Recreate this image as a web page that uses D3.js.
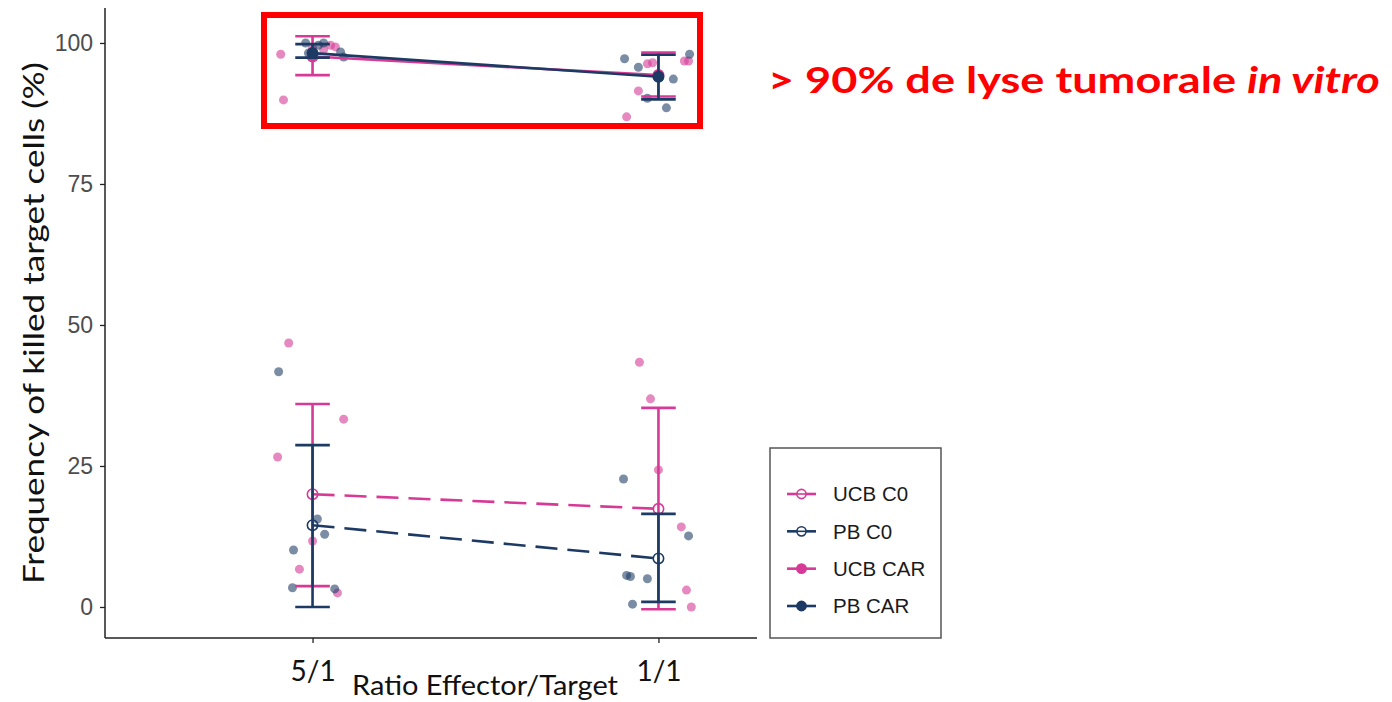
<!DOCTYPE html>
<html>
<head>
<meta charset="utf-8">
<script src="https://cdn.jsdelivr.net/npm/d3@7"></script>
<style>
  body { margin: 0; background: #ffffff; }
  svg { display: block; }
</style>
</head>
<body>
<svg id="chart" width="1392" height="702"></svg>
<script>
// ---- data ----------------------------------------------------------------
const ratios = ["5/1", "1/1"];
const groups = ["UCB C0", "PB C0", "UCB CAR", "PB CAR"];
const yTickValues = [0, 25, 50, 75, 100];

// group means and error bar limits, one value per ratio (5/1, 1/1)
const meanUCBC0 = [20.0, 17.4];
const lowUCBC0  = [3.7, -0.4];
const highUCBC0 = [36.0, 35.3];

const meanPBC0 = [14.5, 8.6];
const lowPBC0  = [0.0, 0.9];
const highPBC0 = [28.7, 16.5];

const meanUCBCAR = [97.6, 94.3];
const lowUCBCAR  = [94.3, 90.5];
const highUCBCAR = [101.2, 98.3];

const meanPBCAR = [98.2, 94.0];
const lowPBCAR  = [97.4, 90.0];
const highPBCAR = [99.8, 97.9];

// individual donors (%), with horizontal jitter as a fraction of the category step
const donorsUCBC0_51 = [46.8, 33.3, 26.6, 11.7, 6.7, 2.5];
const jitterUCBC0_51 = [-0.069, 0.090, -0.101, 0.0, -0.038, 0.072];
const donorsUCBC0_11 = [43.4, 36.9, 24.3, 14.2, 3.0, 0.0];
const jitterUCBC0_11 = [-0.055, -0.023, 0.0, 0.066, 0.081, 0.095];

const donorsPBC0_51 = [41.7, 15.6, 12.9, 10.1, 3.4, 3.2];
const jitterPBC0_51 = [-0.098, 0.014, 0.035, -0.055, -0.058, 0.064];
const donorsPBC0_11 = [22.7, 12.6, 5.6, 5.4, 5.0, 0.5];
const jitterPBC0_11 = [-0.101, 0.087, -0.092, -0.081, -0.032, -0.075];

const donorsUCBCAR_51 = [98.0, 89.9, 99.1, 98.8, 99.3, 99.6];
const jitterUCBCAR_51 = [-0.092, -0.084, 0.0, 0.032, 0.066, 0.052];
const donorsUCBCAR_11 = [96.3, 96.5, 96.8, 96.8, 91.5, 86.9];
const jitterUCBCAR_11 = [-0.032, -0.017, 0.075, 0.087, -0.058, -0.092];

const donorsPBCAR_51 = [100.0, 100.0, 97.5, 98.4, 98.2, 99.6];
const jitterPBCAR_51 = [-0.020, 0.032, 0.090, 0.081, -0.012, 0.017];
const donorsPBCAR_11 = [97.2, 95.7, 93.6, 88.5, 98.0, 90.2];
const jitterPBCAR_11 = [-0.098, -0.058, 0.043, 0.023, 0.090, -0.032];

// ---- styling -------------------------------------------------------------
const PINK = "#d63a96";
const NAVY = "#1c3a63";

const series = [
  { name: groups[0], color: PINK, open: true,  dashed: true,
    mean: meanUCBC0, low: lowUCBC0, high: highUCBC0,
    donors: [donorsUCBC0_51, donorsUCBC0_11], jitter: [jitterUCBC0_51, jitterUCBC0_11] },
  { name: groups[1], color: NAVY, open: true,  dashed: true,
    mean: meanPBC0, low: lowPBC0, high: highPBC0,
    donors: [donorsPBC0_51, donorsPBC0_11], jitter: [jitterPBC0_51, jitterPBC0_11] },
  { name: groups[2], color: PINK, open: false, dashed: false,
    mean: meanUCBCAR, low: lowUCBCAR, high: highUCBCAR,
    donors: [donorsUCBCAR_51, donorsUCBCAR_11], jitter: [jitterUCBCAR_51, jitterUCBCAR_11] },
  { name: groups[3], color: NAVY, open: false, dashed: false,
    mean: meanPBCAR, low: lowPBCAR, high: highPBCAR,
    donors: [donorsPBCAR_51, donorsPBCAR_11], jitter: [jitterPBCAR_51, jitterPBCAR_11] }
];

const svg = d3.select("#chart");

// panel geometry
const panelLeft = 105, panelBottom = 638, panelTop = 8, panelRight = 866, axisEnd = 757;

const x = d3.scalePoint().domain(ratios).range([panelLeft, panelRight]).padding(0.6);
const step = x.step();
const y = d3.scaleLinear().domain([-5.5, 106.2]).range([panelBottom, panelTop]);

const plot = svg.append("g");

// ---- donor points --------------------------------------------------------
series.forEach(s => {
  ratios.forEach((r, i) => {
    plot.selectAll(null)
      .data(s.donors[i].map((v, k) => ({ v, j: s.jitter[i][k] })))
      .join("circle")
      .attr("cx", d => x(r) + d.j * step)
      .attr("cy", d => y(d.v))
      .attr("r", 4.5)
      .attr("fill", s.color)
      .attr("fill-opacity", s.color === PINK ? 0.6 : 0.58);
  });
});

// ---- error bars, mean lines and mean markers -----------------------------
const capHalf = 0.05 * step;
series.forEach(s => {
  const g = plot.append("g");
  ratios.forEach((r, i) => {
    const cx = x(r);
    g.append("line")
      .attr("x1", cx).attr("x2", cx)
      .attr("y1", y(s.low[i])).attr("y2", y(s.high[i]))
      .attr("stroke", s.color).attr("stroke-width", 2.6);
    [s.low[i], s.high[i]].forEach(v => {
      g.append("line")
        .attr("x1", cx - capHalf).attr("x2", cx + capHalf)
        .attr("y1", y(v)).attr("y2", y(v))
        .attr("stroke", s.color).attr("stroke-width", 2.6);
    });
  });

  const line = d3.line().x((d, i) => x(ratios[i])).y(d => y(d));
  g.append("path")
    .datum(s.mean)
    .attr("d", line)
    .attr("fill", "none")
    .attr("stroke", s.color)
    .attr("stroke-width", 2.6)
    .attr("stroke-dasharray", s.dashed ? "22,10" : null);

  g.selectAll(null)
    .data(s.mean)
    .join("circle")
    .attr("cx", (d, i) => x(ratios[i]))
    .attr("cy", d => y(d))
    .attr("r", 5.2)
    .attr("fill", s.open ? "none" : s.color)
    .attr("stroke", s.color)
    .attr("stroke-width", 1.6);
});

// ---- axes ----------------------------------------------------------------
const yAxis = d3.axisLeft(y).tickValues(yTickValues).tickSize(5).tickPadding(7);
const gy = svg.append("g").attr("transform", `translate(${panelLeft},0)`).call(yAxis);
gy.select(".domain").remove();
gy.selectAll(".tick line").attr("stroke", "#222").attr("stroke-width", 1.3);
gy.selectAll(".tick text")
  .attr("fill", "#4d4d4d")
  .style("font-family", "'Liberation Sans', Arial, sans-serif")
  .style("font-size", "23px");

const xAxis = d3.axisBottom(x).tickSize(5).tickPadding(18);
const gx = svg.append("g").attr("transform", `translate(0,${panelBottom})`).call(xAxis);
gx.select(".domain").remove();
gx.selectAll(".tick line").attr("stroke", "#222").attr("stroke-width", 1.3);
gx.selectAll(".tick text")
  .attr("fill", "#111")
  .attr("dy", "0")
  .attr("y", 43)
  .style("font-family", "Lato, 'Open Sans', sans-serif")
  .style("font-size", "28px");

// axis lines
svg.append("line")
  .attr("x1", panelLeft).attr("x2", panelLeft).attr("y1", panelTop).attr("y2", panelBottom)
  .attr("stroke", "#222").attr("stroke-width", 1.5);
svg.append("line")
  .attr("x1", panelLeft).attr("x2", axisEnd).attr("y1", panelBottom).attr("y2", panelBottom)
  .attr("stroke", "#222").attr("stroke-width", 1.5);

// axis titles
svg.append("text")
  .attr("x", 352).attr("y", 695)
  .attr("textLength", 266).attr("lengthAdjust", "spacingAndGlyphs")
  .attr("fill", "#111")
  .style("font-family", "Lato, 'Open Sans', sans-serif")
  .style("font-size", "27px")
  .text("Ratio Effector/Target");

svg.append("text")
  .attr("transform", `translate(44,${(panelTop + panelBottom) / 2}) rotate(-90)`)
  .attr("text-anchor", "middle")
  .attr("textLength", 522).attr("lengthAdjust", "spacingAndGlyphs")
  .attr("fill", "#111")
  .style("font-family", "Lato, 'Open Sans', sans-serif")
  .style("font-size", "28px")
  .text("Frequency of killed target cells (%)");

// ---- legend --------------------------------------------------------------
const lg = svg.append("g");
lg.append("rect")
  .attr("x", 770).attr("y", 448).attr("width", 171).attr("height", 190)
  .attr("fill", "#fff").attr("stroke", "#555").attr("stroke-width", 1.5);
const legendY = d3.scalePoint().domain(groups).range([494, 606]);
series.forEach(s => {
  const ly = legendY(s.name);
  lg.append("line")
    .attr("x1", 787).attr("x2", 816).attr("y1", ly).attr("y2", ly)
    .attr("stroke", s.color).attr("stroke-width", 2.6);
  lg.append("circle")
    .attr("cx", 801.5).attr("cy", ly).attr("r", 4.6)
    .attr("fill", s.open ? "#fff" : s.color)
    .attr("stroke", s.color).attr("stroke-width", 1.6);
  if (s.open) {
    lg.append("line")
      .attr("x1", 797).attr("x2", 806).attr("y1", ly).attr("y2", ly)
      .attr("stroke", s.color).attr("stroke-width", 1.6);
  }
  lg.append("text")
    .attr("x", 833).attr("y", ly).attr("dy", "0.35em")
    .attr("fill", "#1a1a1a")
    .style("font-family", "'Liberation Sans', Arial, sans-serif")
    .style("font-size", "20.5px")
    .text(s.name);
});

// ---- highlight box and annotation ----------------------------------------
svg.append("rect")
  .attr("x", 264).attr("y", 15).attr("width", 436).attr("height", 111)
  .attr("fill", "none").attr("stroke", "#ff0000").attr("stroke-width", 6);

const note = svg.append("text")
  .attr("x", 0).attr("y", 0)
  .attr("fill", "#ff0000")
  .style("font-family", "Lato, 'Open Sans', sans-serif")
  .style("font-weight", "bold")
  .style("font-size", "37px");
note.append("tspan").text("> 90% de lyse tumorale ");
note.append("tspan").style("font-style", "italic").text("in vitro");
const nw = note.node().getBBox().width;
note.attr("transform", `translate(768,93) scale(${612 / nw},1)`);
</script>
</body>
</html>
